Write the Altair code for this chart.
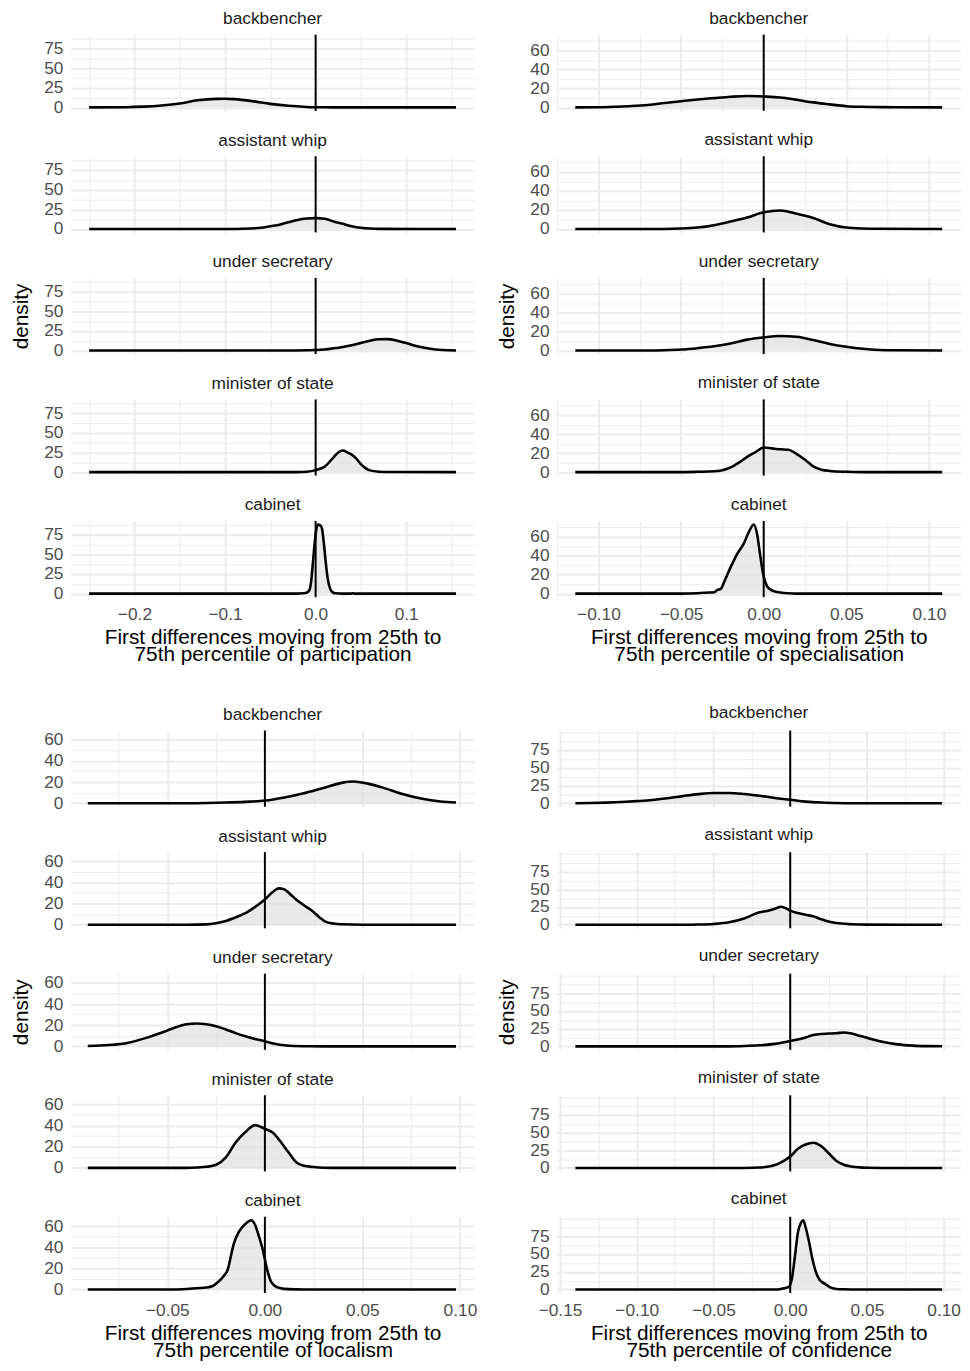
import json
import altair as alt
import pandas as pd

# ---------------- data ----------------
ROLES = ["backbencher", "assistant whip", "under secretary", "minister of state", "cabinet"]

# participation
part_backbencher_x = [-0.25, -0.21, -0.19, -0.17, -0.15, -0.13, -0.11, -0.10, -0.09, -0.07, -0.05, -0.03, -0.01, 0.01, 0.03, 0.155]
part_backbencher_y = [0, 0.3, 1, 2.5, 5, 9, 10.8, 11, 10.5, 8, 4.5, 2, 0.6, 0.1, 0, 0]
part_whip_x = [-0.25, -0.10, -0.08, -0.06, -0.05, -0.04, -0.03, -0.02, -0.01, 0.0, 0.01, 0.02, 0.03, 0.04, 0.05, 0.06, 0.07, 0.155]
part_whip_y = [0, 0, 0.3, 1.5, 3.5, 5.5, 8.5, 11.5, 13.2, 13.8, 13, 9.5, 6.5, 3.5, 1.5, 0.5, 0.1, 0]
part_under_x = [-0.25, -0.03, -0.01, 0.0, 0.01, 0.02, 0.03, 0.04, 0.05, 0.06, 0.07, 0.08, 0.09, 0.10, 0.11, 0.12, 0.13, 0.14, 0.155]
part_under_y = [0, 0, 0.3, 0.6, 1.3, 2.8, 4.6, 6.8, 9.5, 12.5, 14.3, 14.5, 12.5, 9.5, 6, 3.5, 1.7, 0.6, 0.1]
part_minister_x = [-0.25, -0.02, -0.01, 0.0, 0.01, 0.02, 0.025, 0.03, 0.035, 0.04, 0.045, 0.05, 0.055, 0.06, 0.07, 0.08, 0.155]
part_minister_y = [0, 0, 0.5, 2.5, 7, 19, 25, 27.5, 25, 22, 17, 10, 5, 2.2, 0.5, 0.1, 0]
part_cabinet_x = [-0.25, -0.02, -0.015, -0.01, -0.007, -0.005, -0.003, -0.001, 0.001, 0.003, 0.005, 0.007, 0.009, 0.011, 0.013, 0.015, 0.018, 0.022, 0.03, 0.038, 0.041, 0.044, 0.155]
part_cabinet_y = [0, 0, 0.4, 1.2, 4, 15, 39, 65, 83, 88, 87, 83, 65, 42, 22, 10, 2.5, 0.4, 0, 0, 0.6, 0, 0]

# specialisation
spec_backbencher_x = [-0.114, -0.10, -0.09, -0.08, -0.07, -0.06, -0.05, -0.04, -0.03, -0.02, -0.01, 0.0, 0.01, 0.02, 0.03, 0.04, 0.05, 0.06, 0.07, 0.08, 0.108]
spec_backbencher_y = [0, 0.2, 0.7, 1.4, 2.6, 4.6, 6.5, 8.3, 9.8, 11.2, 12, 11.5, 10.5, 8, 5.3, 3.2, 1.3, 0.6, 0.3, 0.1, 0]
spec_whip_x = [-0.114, -0.06, -0.05, -0.04, -0.03, -0.02, -0.01, 0.0, 0.01, 0.02, 0.03, 0.04, 0.05, 0.06, 0.07, 0.108]
spec_whip_y = [0, 0, 0.4, 1.5, 4, 7.8, 12, 17.5, 19.5, 16, 11.5, 5, 1.5, 0.5, 0.2, 0]
spec_under_x = [-0.114, -0.07, -0.06, -0.05, -0.04, -0.03, -0.02, -0.01, 0.0, 0.01, 0.02, 0.03, 0.04, 0.05, 0.06, 0.07, 0.08, 0.108]
spec_under_y = [0, 0, 0.3, 1, 2.5, 4.5, 7.5, 11.5, 13.8, 15.3, 14.5, 11, 7, 4, 1.8, 0.6, 0.2, 0]
spec_minister_x = [-0.114, -0.05, -0.04, -0.03, -0.025, -0.02, -0.015, -0.01, -0.005, 0.0, 0.005, 0.01, 0.015, 0.02, 0.025, 0.03, 0.035, 0.04, 0.05, 0.06, 0.108]
spec_minister_y = [0, 0, 0.3, 0.8, 2, 5, 10, 16, 21, 26, 25, 24, 23.5, 19, 13, 6, 2.5, 1.2, 0.3, 0, 0]
spec_cabinet_x = [-0.114, -0.05, -0.04, -0.035, -0.03, -0.028, -0.026, -0.024, -0.02, -0.016, -0.012, -0.009, -0.006, -0.004, -0.002, 0.0, 0.002, 0.004, 0.006, 0.01, 0.015, 0.02, 0.108]
spec_cabinet_y = [0, 0, 0.5, 1, 1.5, 4, 5, 12, 28, 42, 53, 65, 73, 63, 39, 18, 8, 4.5, 2.7, 1.3, 0.4, 0, 0]

# localism
loc_backbencher_x = [-0.0908, -0.04, -0.03, -0.02, -0.01, 0.0, 0.01, 0.02, 0.03, 0.04, 0.045, 0.05, 0.06, 0.07, 0.08, 0.09, 0.098]
loc_backbencher_y = [0, 0, 0.2, 0.6, 1.3, 2.5, 5.5, 9.5, 14.5, 19.5, 20.5, 19.5, 15, 9, 4.5, 1.6, 0.7]
loc_whip_x = [-0.0908, -0.04, -0.03, -0.025, -0.02, -0.015, -0.01, -0.005, 0.0, 0.004, 0.007, 0.01, 0.013, 0.016, 0.02, 0.024, 0.028, 0.031, 0.035, 0.04, 0.05, 0.098]
loc_whip_y = [0, 0, 0.4, 1.5, 3.5, 7, 11, 17, 24, 31, 34.5, 33.5, 29, 24, 18.5, 13.5, 7, 3, 1.2, 0.5, 0.1, 0]
loc_under_x = [-0.0908, -0.08, -0.07, -0.06, -0.05, -0.045, -0.04, -0.035, -0.03, -0.025, -0.02, -0.015, -0.01, -0.005, 0.0, 0.005, 0.01, 0.015, 0.02, 0.03, 0.098]
loc_under_y = [0.3, 1.2, 3.5, 8.5, 15, 18.5, 21, 21.7, 21, 19, 16, 12.5, 9.5, 7, 4.8, 2.5, 1, 0.3, 0.1, 0, 0]
loc_minister_x = [-0.0908, -0.04, -0.035, -0.03, -0.025, -0.02, -0.015, -0.01, -0.005, 0.0, 0.004, 0.008, 0.012, 0.016, 0.02, 0.025, 0.03, 0.04, 0.098]
loc_minister_y = [0, 0, 0.3, 1, 3, 10, 24, 34, 40.5, 37, 33.5, 25, 15, 5.5, 2, 0.8, 0.2, 0, 0]
loc_cabinet_x = [-0.0908, -0.05, -0.04, -0.035, -0.03, -0.027, -0.024, -0.021, -0.019, -0.0175, -0.016, -0.0135, -0.010, -0.007, -0.005, -0.003, -0.001, 0.001, 0.003, 0.005, 0.008, 0.012, 0.02, 0.098]
loc_cabinet_y = [0, 0, 0.5, 1.2, 1.8, 3, 7, 13, 19, 31, 43, 54, 62, 65.5, 61, 50, 37, 20, 8, 3.5, 1.2, 0.3, 0, 0]

# confidence
conf_backbencher_x = [-0.14, -0.13, -0.12, -0.11, -0.10, -0.09, -0.08, -0.07, -0.06, -0.05, -0.04, -0.03, -0.02, -0.01, 0.0, 0.01, 0.02, 0.03, 0.04, 0.099]
conf_backbencher_y = [0, 0.3, 0.9, 1.8, 3, 4.5, 7, 10, 12.8, 14.5, 14.5, 13, 10.5, 7.5, 5, 2.3, 0.9, 0.3, 0, 0]
conf_whip_x = [-0.14, -0.07, -0.06, -0.05, -0.04, -0.03, -0.02, -0.015, -0.01, -0.006, -0.003, 0.0, 0.005, 0.01, 0.015, 0.02, 0.025, 0.03, 0.04, 0.05, 0.099]
conf_whip_y = [0, 0, 0.3, 1.2, 3.5, 9, 17.5, 19.5, 22.5, 25.5, 23.5, 20, 16.5, 14, 12, 8, 4.5, 2.5, 0.8, 0.2, 0]
conf_under_x = [-0.14, -0.04, -0.03, -0.02, -0.01, 0.0, 0.01, 0.015, 0.02, 0.025, 0.03, 0.035, 0.04, 0.045, 0.05, 0.06, 0.07, 0.08, 0.09, 0.099]
conf_under_y = [0, 0, 0.5, 1.5, 3.5, 7.5, 12.5, 16, 17.5, 18, 18.5, 19.5, 18, 15, 12, 6.5, 2.8, 1, 0.3, 0.1]
conf_minister_x = [-0.14, -0.03, -0.02, -0.015, -0.01, -0.005, 0.0, 0.005, 0.01, 0.015, 0.02, 0.025, 0.03, 0.035, 0.04, 0.045, 0.05, 0.06, 0.099]
conf_minister_y = [0, 0, 0.5, 1.5, 4, 9, 16, 27, 33, 35.5, 31, 21, 10, 4.5, 2, 0.8, 0.2, 0, 0]
conf_cabinet_x = [-0.14, -0.01, -0.006, -0.003, -0.001, 0.001, 0.003, 0.005, 0.007, 0.0085, 0.010, 0.012, 0.0145, 0.017, 0.019, 0.021, 0.0235, 0.026, 0.03, 0.035, 0.04, 0.099]
conf_cabinet_y = [0, 0, 0.8, 2, 3.5, 14, 45, 80, 94, 97.5, 88, 70, 43, 23, 14, 10, 6.8, 3, 0.8, 0.2, 0, 0]

# axis ticks (major = labelled, minor = grid only)
part_x_major = [-0.2, -0.1, 0.0, 0.1]
part_x_minor = [-0.25, -0.15, -0.05, 0.05, 0.15]
spec_x_major = [-0.1, -0.05, 0.0, 0.05, 0.1]
spec_x_minor = [-0.125, -0.075, -0.025, 0.025, 0.075]
loc_x_major = [-0.05, 0.0, 0.05, 0.1]
loc_x_minor = [-0.075, -0.025, 0.025, 0.075]
conf_x_major = [-0.15, -0.1, -0.05, 0.0, 0.05, 0.1]
conf_x_minor = [-0.125, -0.075, -0.025, 0.025, 0.075]
part_y_major = [0, 25, 50, 75]
part_y_minor = [12.5, 37.5, 62.5, 87.5]
spec_y_major = [0, 20, 40, 60]
spec_y_minor = [10, 30, 50, 70]
loc_y_major = [0, 20, 40, 60]
loc_y_minor = [10, 30, 50]
conf_y_major = [0, 25, 50, 75]
conf_y_minor = [12.5, 37.5, 62.5, 87.5, 100]

# ---------------- styling ----------------
FONT = "Liberation Sans"
GRID = "#EBEBEB"
FILL = "#E0E0E0"
W, H = 408, 77
STEP = 122.9
MINUS = "\u2212"


def grid_width(majors):
    test = f"indexof({json.dumps(majors)}, datum.value) >= 0"
    return {"condition": {"test": test, "value": 2}, "value": 1}


def panel(xs, ys, label, xdom, ydom, xmaj, xmin, ymaj, ymin, xfmt, bottom, xtitle, ytitle, toff):
    df = pd.DataFrame({"x": xs, "density": ys})
    xtest = f"indexof({json.dumps(xmaj)}, datum.value) >= 0"
    ytest = f"indexof({json.dumps(ymaj)}, datum.value) >= 0"
    xvals = sorted(xmaj + xmin)
    yvals = sorted(ymaj + ymin)
    if bottom:
        xaxis = alt.Axis(
            values=xvals, grid=True, gridColor=GRID, gridWidth=grid_width(xmaj),
            ticks=False, domain=False,
            labelExpr=f"{xtest} ? replace(format(datum.value, '{xfmt}'), '-', '{MINUS}') : ''",
            labelFontSize=17.5, labelColor="#4D4D4D", labelPadding=9,
            labelOverlap=False, labelFlush=False, labelFont=FONT,
            title=xtitle, titleFontSize=21, titleFontWeight="normal", titleColor="black",
            titlePadding=3.5, titleLineHeight=17, titleFont=FONT,
        )
    else:
        xaxis = alt.Axis(
            values=xvals, grid=True, gridColor=GRID, gridWidth=grid_width(xmaj),
            ticks=False, domain=False, labels=False, title=None,
        )
    yargs = dict(
        values=yvals, grid=True, gridColor=GRID, gridWidth=grid_width(ymaj),
        ticks=False, domain=False,
        labelExpr=f"{ytest} ? format(datum.value, 'd') : ''",
        labelFontSize=17.5, labelColor="#4D4D4D", labelPadding=8,
        labelOverlap=False, labelFlush=False, labelFont=FONT,
    )
    if ytitle:
        yaxis = alt.Axis(title=ytitle, titleFontSize=21, titleFontWeight="normal",
                         titleColor="black", titlePadding=12, titleFont=FONT, **yargs)
    else:
        yaxis = alt.Axis(title=None, **yargs)

    x = alt.X("x:Q", scale=alt.Scale(domain=xdom, nice=False, zero=False), axis=xaxis)
    y = alt.Y("density:Q", scale=alt.Scale(domain=ydom, nice=False, zero=False), axis=yaxis)
    area = alt.Chart(df).mark_area(
        interpolate="monotone", color=FILL,
        line={"color": "black", "strokeWidth": 2.6},
    ).encode(x=x, y=y)
    vline = alt.Chart(pd.DataFrame({"x": [0.0]})).mark_rule(
        color="black", strokeWidth=2
    ).encode(x=alt.X("x:Q"))
    return alt.layer(area, vline).properties(
        width=W, height=H,
        title=alt.TitleParams(
            text=label, fontSize=17.5, fontWeight="normal", color="#1A1A1A",
            font=FONT, anchor="middle", frame="group", offset=toff, baseline="alphabetic",
        ),
    )


def block(series, xdom, ydom, xmaj, xmin, ymaj, ymin, xfmt, what, toff):
    xtitle = ["First differences moving from 25th to\u00a0", f"\u00a075th percentile of {what}"]
    panels = []
    for i, (role, (xs, ys)) in enumerate(zip(ROLES, series)):
        panels.append(panel(
            xs, ys, role, xdom, ydom, xmaj, xmin, ymaj, ymin, xfmt,
            bottom=(i == 4), xtitle=xtitle, ytitle=("density" if i == 2 else None), toff=toff,
        ))
    return alt.vconcat(*panels, spacing=STEP - H, bounds="flush")


tl = block(
    [(part_backbencher_x, part_backbencher_y), (part_whip_x, part_whip_y),
     (part_under_x, part_under_y), (part_minister_x, part_minister_y),
     (part_cabinet_x, part_cabinet_y)],
    [-0.27025, 0.17525], [-4.4, 92.4], part_x_major, part_x_minor,
    part_y_major, part_y_minor, ".1f", "participation", -11.8,
)
tr = block(
    [(spec_backbencher_x, spec_backbencher_y), (spec_whip_x, spec_whip_y),
     (spec_under_x, spec_under_y), (spec_minister_x, spec_minister_y),
     (spec_cabinet_x, spec_cabinet_y)],
    [-0.1251, 0.1191], [-3.65, 76.65], spec_x_major, spec_x_minor,
    spec_y_major, spec_y_minor, ".2f", "specialisation", -9.0,
)
bl = block(
    [(loc_backbencher_x, loc_backbencher_y), (loc_whip_x, loc_whip_y),
     (loc_under_x, loc_under_y), (loc_minister_x, loc_minister_y),
     (loc_cabinet_x, loc_cabinet_y)],
    [-0.0995, 0.1074], [-3.3, 68.8], loc_x_major, loc_x_minor,
    loc_y_major, loc_y_minor, ".2f", "localism", -7.8,
)
br = block(
    [(conf_backbencher_x, conf_backbencher_y), (conf_whip_x, conf_whip_y),
     (conf_under_x, conf_under_y), (conf_minister_x, conf_minister_y),
     (conf_cabinet_x, conf_cabinet_y)],
    [-0.152, 0.111], [-4.9, 102.4], conf_x_major, conf_x_minor,
    conf_y_major, conf_y_minor, ".2f", "confidence", -12.1,
)

chart = alt.concat(
    tl, tr, bl, br, columns=2, spacing={"row": 39.5, "column": 19.5}
).properties(
    padding={"left": 2.5, "top": -6.5, "right": 1, "bottom": 2}
).configure(
    font=FONT
).configure_view(
    stroke=None
)

chart.save("out.html", embed_options={"renderer": "svg", "actions": False})
